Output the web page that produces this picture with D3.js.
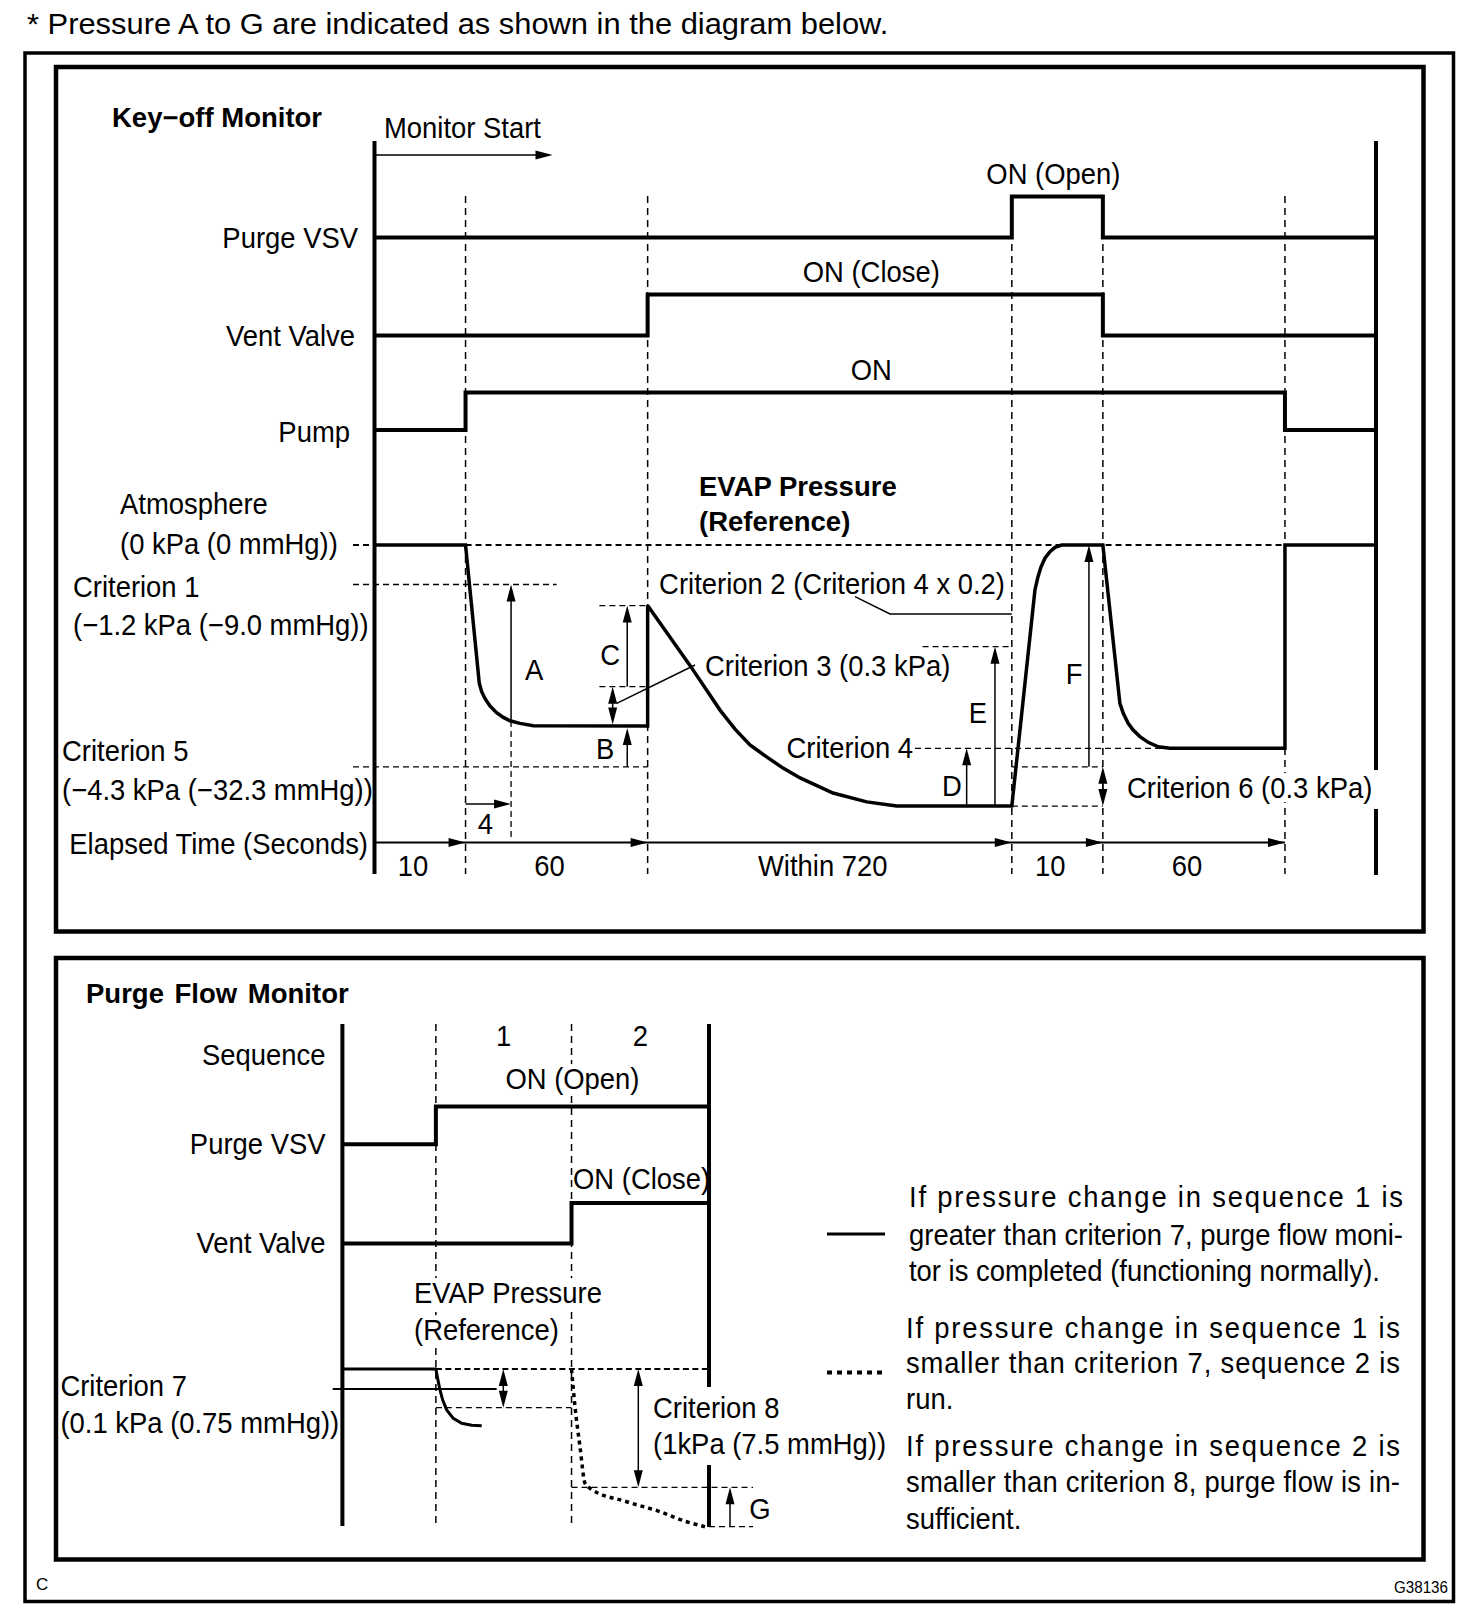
<!DOCTYPE html>
<html>
  <head>
    <meta charset="utf-8">
    <style type="text/css">
      body { margin: 0; background: #fff; }
      svg text { font-family: "Liberation Sans", Arial, sans-serif; fill: #000; }
    </style>
    <title>Key-off Monitor / Purge Flow Monitor</title>
  </head>
  <body>
    <script src="https://cdn.jsdelivr.net/npm/d3@7"></script>
    <script>

/*========== Data ==========*/

// Key-off monitor: phase boundaries (schematic time units) and their labels (seconds)
const keyPhaseBounds = [0, 1, 3, 7, 8, 10, 11];
const keyPhaseLabels = ["10", "60", "Within 720", "10", "60"];

// on/off states [t, state]
const keyPurgeVsv = [[0, 0], [7, 1], [8, 0], [11, 0]];
const keyVentValve = [[0, 0], [3, 1], [8, 0], [11, 0]];
const keyPump = [[0, 0], [1, 1], [10, 0], [11, 0]];
const keySignalNames = ["Purge VSV", "Vent Valve", "Pump"];
const keySignalOnText = ["ON (Open)", "ON (Close)", "ON"];

// EVAP pressure trace [t, level], level in schematic units, 0 = atmosphere
const keyEvap = [
  [0, 0], [1, 0], [1.151, -5.32], [1.177, -5.64], [1.213, -5.90], [1.268, -6.19], [1.341, -6.45],
  [1.415, -6.63], [1.488, -6.76], [1.598, -6.86], [1.744, -6.95], [3, -6.96],
  [3, -2.33], [3.465, -4.63], [3.795, -6.35], [3.96, -7.08], [4.124, -7.69], [4.307, -8.15],
  [4.487, -8.58], [4.675, -8.96], [5.036, -9.54], [5.406, -9.88], [5.735, -10.04], [7, -10.04],
  [7.254, -1.73], [7.287, -1.23], [7.320, -0.85], [7.364, -0.51], [7.419, -0.26], [7.474, -0.09], [7.547, 0],
  [8, 0], [8.187, -6.09], [8.224, -6.47], [8.278, -6.86], [8.333, -7.12], [8.407, -7.37],
  [8.498, -7.59], [8.608, -7.76], [8.737, -7.82], [10, -7.82], [10, 0], [11, 0]
];

// reference levels of the key-off diagram (same schematic units)
const levelCrit1 = -1.52;
const levelCTop = -2.33;
const levelCrit2 = -2.65;
const levelETop = -3.91;
const levelCrit3 = -5.45;
const levelBottom1 = -6.96;
const levelCrit4 = -7.82;
const levelCrit5 = -8.53;
const levelBottom2 = -10.04;

// Purge flow monitor: sequence boundaries (schematic time units)
const flowSeqBounds = [2.04, 5.0];
const flowSeqLabels = ["1", "2"];
const flowPurgeVsv = [[0, 0], [2.04, 1], [8, 1]];
const flowVentValve = [[0, 0], [5, 1], [8, 1]];
const flowSignalNames = ["Purge VSV", "Vent Valve"];
const flowSignalOnText = ["ON (Open)", "ON (Close)"];

// EVAP pressure, level in kPa-like schematic units (criterion 8 = -1)
const flowEvapNormal = [
  [0, 0], [2.04, 0], [2.071, -0.065], [2.13, -0.178], [2.189, -0.262], [2.276, -0.346],
  [2.42, -0.417], [2.603, -0.459], [2.822, -0.476], [3.04, -0.479]
];
const flowEvapSlow = [
  [5, 0], [5.076, -0.319], [5.185, -0.657], [5.294, -0.966], [5.403, -1.008],
  [6.204, -1.122], [6.931, -1.206], [7.513, -1.291], [7.913, -1.333]
];
const levelCrit7 = -0.327;
const levelCrit8 = -1.0;

const legendTexts = [
  ["If pressure change in sequence 1 is", "greater than criterion 7, purge flow moni-", "tor is completed (functioning normally)."],
  ["If pressure change in sequence 1 is", "smaller than criterion 7, sequence 2 is", "run."],
  ["If pressure change in sequence 2 is", "smaller than criterion 8, purge flow is in-", "sufficient."]
];

/*========== Helpers ==========*/
const FS = 29.5;   // normal label size
const SX = 0.93;   // labels are slightly condensed
const measureCtx = document.createElement("canvas").getContext("2d");

var svg = d3.select("body").append("svg")
    .attr("width", 1472)
    .attr("height", 1622)
  .style("display", "block");

function line(g, x1, y1, x2, y2, w, dash) {
  return g.append("line")
      .attr("x1", x1).attr("y1", y1).attr("x2", x2).attr("y2", y2)
      .attr("stroke", "#000")
      .attr("stroke-width", w)
      .attr("stroke-dasharray", dash || null);
}

function head(g, x, y, dir) {
  const L = 17, W = 4.5;
  const p = {
    up: [[x, y], [x - W, y + L], [x + W, y + L]],
    down: [[x, y], [x - W, y - L], [x + W, y - L]],
    right: [[x, y], [x - L, y - W], [x - L, y + W]]
  }[dir];
  g.append("path")
      .attr("d", "M" + p.map(d => d.join(",")).join("L") + "Z")
      .attr("fill", "#000");
}

// vertical arrow from y0 to y1 (head at y1), optional head at y0 too
function vArrow(g, x, y0, y1, both) {
  const s = y1 < y0 ? -1 : 1;
  line(g, x, both ? y0 + s * 8 : y0, x, y1 - s * 8, 1.5);
  head(g, x, y1, s < 0 ? "up" : "down");
  if (both) head(g, x, y0, s < 0 ? "down" : "up");
}

function hArrow(g, x0, x1, y, w) {
  line(g, x0, y, x1 - 8, y, w || 1.5);
  head(g, x1, y, "right");
}

function txt(g, x, y, s, o) {
  o = o || {};
  const sx = o.sx !== undefined ? o.sx : SX;
  const size = o.size || FS;
  // labels that sit on dashed guides get a white box behind them
  if (o.bg) {
    measureCtx.font = `${o.bold ? "bold " : ""}${size}px "Liberation Sans", Arial, sans-serif`;
    const w = measureCtx.measureText(s).width * sx;
    const anchor = o.anchor || "start";
    const x0 = anchor === "middle" ? x - w / 2 : anchor === "end" ? x - w : x;
    g.append("rect")
        .attr("x", x0 - 2).attr("y", y - 0.47 * size)
        .attr("width", w + 4).attr("height", 0.98 * size)
        .attr("fill", "#fff");
  }
  const t = g.append("text")
      .attr("transform", `translate(${x},${y}) scale(${sx},1)`)
      .attr("dy", "0.36em")
      .attr("text-anchor", o.anchor || "start")
      .attr("font-size", size)
      .attr("font-weight", o.bold ? "bold" : null)
      .text(s);
  if (o.width) t.attr("textLength", o.width / sx).attr("lengthAdjust", "spacing");
  return t;
}

/*========== Frames ==========*/
txt(svg, 27, 23.5, "* Pressure A to G are indicated as shown in the diagram below.", {size: 29, sx: 1.065});

svg.append("rect").attr("x", 25).attr("y", 53).attr("width", 1428.5).attr("height", 1548.5)
    .attr("fill", "none").attr("stroke", "#000").attr("stroke-width", 3.5);
svg.append("rect").attr("x", 56).attr("y", 67).attr("width", 1367.5).attr("height", 864.5)
    .attr("fill", "none").attr("stroke", "#000").attr("stroke-width", 4.5);
svg.append("rect").attr("x", 56).attr("y", 958).attr("width", 1367.5).attr("height", 601.5)
    .attr("fill", "none").attr("stroke", "#000").attr("stroke-width", 4.5);

txt(svg, 36, 1584, "C", {size: 17, sx: 1});
txt(svg, 1448, 1587, "G38136", {size: 16, sx: 0.95, anchor: "end"});

/*========== Key-off monitor ==========*/
var keyG = svg.append("g");

var x = d3.scaleLinear().domain([0, 11]).range([374.5, 1376]);
var yP = d3.scaleLinear().domain([0, -10]).range([545, 805]);

txt(keyG, 112, 117, "Key\u2212off Monitor", {bold: true, size: 27.5, sx: 1});

// phase dashed verticals
keyPhaseBounds.slice(1, -1).forEach(b => line(keyG, x(b), 196, x(b), 874, 1.5, "7,5"));

// axes
line(keyG, x(0), 141, x(0), 874, 4);
line(keyG, x(11), 141, x(11), 770, 4);
line(keyG, x(11), 809, x(11), 875, 4);

// monitor start
txt(keyG, 384, 127, "Monitor Start");
hArrow(keyG, x(0), x(0) + 178, 155, 1.5);

// signal rows
const keyRows = [
  {data: keyPurgeVsv, low: 237.5, high: 196.5, labelX: 358},
  {data: keyVentValve, low: 335.5, high: 294.5, labelX: 355},
  {data: keyPump, low: 430, high: 392.5, labelX: 350}
];
keyRows.forEach((r, i) => {
  const y = d3.scaleLinear().domain([0, 1]).range([r.low, r.high]);
  keyG.append("path")
      .datum(r.data)
      .attr("d", d3.line().x(d => x(d[0])).y(d => y(d[1])).curve(d3.curveStepAfter))
      .attr("fill", "none").attr("stroke", "#000").attr("stroke-width", 4);
  txt(keyG, r.labelX, (r.low + r.high) / 2 + 20, keySignalNames[i], {anchor: "end"});
  const on = r.data.findIndex(d => d[1] === 1);
  const mid = (r.data[on][0] + r.data[on + 1][0]) / 2;
  txt(keyG, x(mid) - 4, r.high - 23, keySignalOnText[i], {anchor: "middle"});
});

// pressure labels
txt(keyG, 699, 486, "EVAP Pressure", {bold: true, size: 27.5, sx: 1});
txt(keyG, 699, 521, "(Reference)", {bold: true, size: 27.5, sx: 1});
txt(keyG, 120, 503, "Atmosphere");
txt(keyG, 120, 543, "(0 kPa (0 mmHg))");
txt(keyG, 73, 586, "Criterion 1");
txt(keyG, 73, 624, "(\u22121.2 kPa (\u22129.0 mmHg))");
txt(keyG, 62, 750, "Criterion 5");
txt(keyG, 62, 789, "(\u22124.3 kPa (\u221232.3 mmHg))");

// reference dashed levels
line(keyG, 353, yP(0), x(0), yP(0), 2, "6,4");
line(keyG, x(1), yP(0), x(10), yP(0), 2, "6,4");
line(keyG, 353, yP(levelCrit1), x(2.0), yP(levelCrit1), 1.3, "6,4");
line(keyG, 353, yP(levelCrit5), x(3), yP(levelCrit5), 1.3, "6,4");
line(keyG, x(2.47), yP(levelCTop), x(3), yP(levelCTop), 1.3, "6,4");
line(keyG, x(2.47), yP(levelCrit3), x(3), yP(levelCrit3), 1.3, "6,4");
line(keyG, x(6.02), yP(levelETop), x(7), yP(levelETop), 1.3, "6,4");
line(keyG, 915, yP(levelCrit4), x(8.737), yP(levelCrit4), 1.3, "6,4");
line(keyG, x(7), yP(levelCrit5), x(8), yP(levelCrit5), 1.3, "6,4");
line(keyG, x(7), yP(levelBottom2), x(8), yP(levelBottom2), 1.3, "6,4");

// EVAP trace
keyG.append("path")
    .datum(keyEvap)
    .attr("d", d3.line().x(d => x(d[0])).y(d => yP(d[1])))
    .attr("fill", "none").attr("stroke", "#000").attr("stroke-width", 3.5)
    .attr("stroke-linejoin", "miter").attr("stroke-miterlimit", 2);

// A and the 4 s mark
vArrow(keyG, x(1.5), yP(-6.77), yP(levelCrit1));
line(keyG, x(1.5), yP(-6.77), x(1.5), 837, 1.3, "6,4");
txt(keyG, x(1.5) + 23, 669, "A", {anchor: "middle"});
hArrow(keyG, x(1), x(1.5), 804, 1.5);
txt(keyG, x(1.25) - 3, 823, "4", {anchor: "middle"});

// C, B, criterion 3
vArrow(keyG, x(2.776), yP(levelCrit3), yP(levelCTop));
txt(keyG, x(2.776) - 17, 654, "C", {anchor: "middle"});
vArrow(keyG, x(2.776), yP(levelCrit5), yP(levelBottom1) + 2);
txt(keyG, x(2.776) - 22, 748, "B", {anchor: "middle"});
vArrow(keyG, x(2.616), yP(levelBottom1) - 1.5, yP(levelCrit3), true);
line(keyG, 616.7, 703.3, 695, 665, 1.5);
txt(keyG, 705, 665, "Criterion 3 (0.3 kPa)");

// criterion 2
txt(keyG, 1005, 583, "Criterion 2 (Criterion 4 x 0.2)", {anchor: "end", bg: true});
keyG.append("path")
    .attr("d", `M855,596.7L890,${yP(levelCrit2)}L${x(7)},${yP(levelCrit2)}`)
    .attr("fill", "none").attr("stroke", "#000").attr("stroke-width", 1.5);

// D, E, criterion 4
txt(keyG, 913, 747, "Criterion 4", {anchor: "end"});
vArrow(keyG, x(6.504), yP(levelBottom2), yP(levelCrit4));
txt(keyG, 952, 785, "D", {anchor: "middle"});
vArrow(keyG, x(6.815), yP(levelBottom2), yP(levelETop));
txt(keyG, 978, 712, "E", {anchor: "middle"});

// F, criterion 6
vArrow(keyG, x(7.847), yP(levelCrit5), yP(0));
txt(keyG, 1074, 673, "F", {anchor: "middle"});
vArrow(keyG, x(8), yP(levelBottom2), yP(levelCrit5), true);
txt(keyG, 1127, 787, "Criterion 6 (0.3 kPa)", {bg: true});

// elapsed time axis
txt(keyG, 368, 843, "Elapsed Time (Seconds)", {anchor: "end"});
line(keyG, x(0), 842.5, x(10), 842.5, 2);
keyPhaseBounds.slice(1, -1).forEach(b => head(keyG, x(b), 842.5, "right"));
keyPhaseLabels.forEach((s, i) => {
  const m = (keyPhaseBounds[i] + keyPhaseBounds[i + 1]) / 2;
  txt(keyG, x(m) - 7, 865, s, {anchor: "middle"});
});

/*========== Purge flow monitor ==========*/
var flowG = svg.append("g");

var xB = d3.scaleLinear().domain([0, 8]).range([342.4, 709]);
var yB = d3.scaleLinear().domain([0, -1]).range([1369, 1487.3]);

txt(flowG, 86, 993, "Purge Flow Monitor", {bold: true, size: 27.5, sx: 1}).attr("word-spacing", 3);

flowSeqBounds.forEach(b => line(flowG, xB(b), 1024, xB(b), 1526, 1.5, "7,5"));
line(flowG, xB(0), 1024, xB(0), 1526, 4);
line(flowG, xB(8), 1024, xB(8), 1387, 4);
line(flowG, xB(8), 1465, xB(8), 1527, 4);

txt(flowG, 325.5, 1054, "Sequence", {anchor: "end"});
const seqEdges = flowSeqBounds.concat([8]);
flowSeqLabels.forEach((s, i) => {
  txt(flowG, xB((seqEdges[i] + seqEdges[i + 1]) / 2), 1035, s, {anchor: "middle"});
});

const flowRows = [
  {data: flowPurgeVsv, low: 1144.3, high: 1106.5},
  {data: flowVentValve, low: 1243.5, high: 1203}
];
flowRows.forEach((r, i) => {
  const y = d3.scaleLinear().domain([0, 1]).range([r.low, r.high]);
  flowG.append("path")
      .datum(r.data)
      .attr("d", d3.line().x(d => xB(d[0])).y(d => y(d[1])).curve(d3.curveStepAfter))
      .attr("fill", "none").attr("stroke", "#000").attr("stroke-width", 4);
  txt(flowG, 325.5, r.low - 1, flowSignalNames[i], {anchor: "end"});
});
txt(flowG, xB((flowSeqBounds[0] + 8) / 2), 1078, flowSignalOnText[0], {anchor: "middle", bg: true});
txt(flowG, xB(flowSeqBounds[1]) + 1.5, 1178, flowSignalOnText[1]);

txt(flowG, 414, 1292, "EVAP Pressure", {bg: true});
txt(flowG, 414, 1329, "(Reference)", {bg: true});
txt(flowG, 60.4, 1385.6, "Criterion 7");
txt(flowG, 60.4, 1422.6, "(0.1 kPa (0.75 mmHg))");

// atmosphere and criterion levels
line(flowG, xB(flowSeqBounds[0]), yB(0), xB(8), yB(0), 2, "6,3.5");
line(flowG, 332.7, yB(-0.169), 496.7, yB(-0.169), 2);
line(flowG, xB(flowSeqBounds[0]), yB(levelCrit7), xB(flowSeqBounds[1]), yB(levelCrit7), 1.3, "6,4");
line(flowG, xB(flowSeqBounds[1]), yB(levelCrit8), 753, yB(levelCrit8), 1.3, "6,4");
line(flowG, xB(8), yB(-1.333), 753, yB(-1.333), 1.3, "6,4");

// pressure traces
flowG.append("path")
    .datum(flowEvapNormal)
    .attr("d", d3.line().x(d => xB(d[0])).y(d => yB(d[1])))
    .attr("fill", "none").attr("stroke", "#000").attr("stroke-width", 3);
flowG.append("path")
    .datum(flowEvapSlow)
    .attr("d", d3.line().x(d => xB(d[0])).y(d => yB(d[1])).curve(d3.curveMonotoneX))
    .attr("fill", "none").attr("stroke", "#000").attr("stroke-width", 3.5)
    .attr("stroke-dasharray", "4,4");

// criterion 7 / 8 / G arrows
vArrow(flowG, 503.3, yB(levelCrit7), yB(0), true);
vArrow(flowG, 638.3, yB(levelCrit8), yB(0), true);
txt(flowG, 653, 1407, "Criterion 8");
txt(flowG, 653, 1443, "(1kPa (7.5 mmHg))");
vArrow(flowG, 730, yB(-1.333), yB(levelCrit8));
txt(flowG, 760, 1508, "G", {anchor: "middle"});

// legend
line(flowG, 827, 1234, 885, 1234, 3);
line(flowG, 827, 1372.6, 885, 1372.6, 4, "5,5");
const legendLayout = [
  {left: 909, right: 1403, ys: [1196.5, 1234.3, 1270.4]},
  {left: 906, right: 1400, ys: [1327, 1362, 1398]},
  {left: 906, right: 1400, ys: [1445.7, 1481.3, 1518.3]}
];
legendTexts.forEach((lines, b) => {
  const L = legendLayout[b];
  lines.forEach((s, k) => {
    const last = k === lines.length - 1;
    txt(flowG, L.left, L.ys[k], s, last ? {} : {width: L.right - L.left});
  });
});

    </script>
  </body>
</html>
